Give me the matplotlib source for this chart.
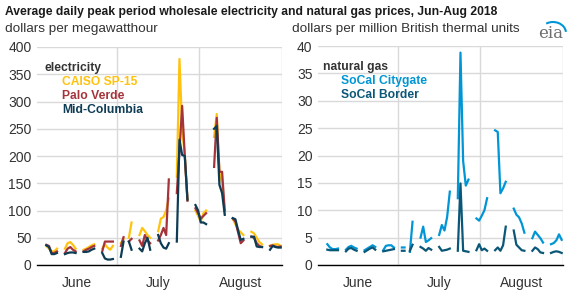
import numpy as np
import matplotlib.pyplot as plt
from matplotlib.patches import Arc

plt.rcParams['font.family'] = ['Liberation Sans', 'DejaVu Sans']

# dni od 1 czerwca do 31 sierpnia 2018, weekendy/swieta puste
n = np.nan
caiso = [n, n, n, 35, 30, 25, 25, 30, n, n,
         30, 40, 42, 37, 30, n, n, 28, 30, 33,
         36, 38, n, n, 30, 38, 32, 28, 35, n,
         n, 40, 48, n, 50, 78, n, n, 55, 68,
         62, 55, 50, n, n, 62, 85, 88, 100, 122,
         n, n, 162, 378, 250, 200, 120, n, n, 100,
         90, 80, 95, 100, n, n, 235, 277, 170, 150,
         95, n, n, 85, 75, 65, 60, 55, n, n,
         61, 58, 50, 42, 38, n, n, 35, 37, 38,
         38, 35]
palo_verde = [n, n, n, 37, 35, 22, 22, 25, n, n,
              22, 30, 33, 28, 25, n, n, 25, 28, 30,
              33, 35, n, n, 25, 43, 43, 43, 43, n,
              n, 35, 51, n, 43, 48, n, n, 45, 35,
              55, 45, 40, n, n, 45, 55, 68, 55, 157,
              n, n, 132, 210, 292, 200, 118, n, n, 104,
              95, 85, 90, 95, n, n, 180, 270, 171, 171,
              100, n, n, 85, 80, 60, 40, 45, n, n,
              52, 50, 40, 35, 33, n, n, 35, 36, 34,
              33, 34]
mid_columbia = [n, n, n, 36, 33, 20, 20, 22, n, n,
                20, 22, 23, 23, 22, n, n, 24, 24, 25,
                28, 30, n, n, 22, 12, 10, 10, 11, n,
                n, 15, 43, n, 43, 28, n, n, 30, 25,
                40, 50, 28, n, n, 55, 40, 32, 30, 40,
                n, n, 43, 230, 202, 200, 120, n, n, 110,
                100, 78, 78, 75, n, n, 250, 255, 147, 132,
                92, n, n, 86, 84, 64, 46, 48, n, n,
                52, 52, 34, 33, 33, n, n, 28, 35, 33,
                32, 32]

citygate = [n, n, n, 3.8, 3.2, 2.9, 2.9, 3.0, n, n,
            2.8, 3.3, 3.5, 3.2, 3.0, n, n, 2.7, 3.0, 3.3,
            3.6, 3.3, n, n, 2.7, 3.5, 3.6, 3.6, 3.2, n,
            n, 3.2, 3.2, n, 2.4, 7.9, n, n, 5.0, 7.0,
            4.2, 4.5, 4.9, n, n, 5.5, 7.3, 6.3, 8.8, 13.4,
            n, n, 12.2, 38.8, 19.0, 14.5, 15.6, n, n, 8.5,
            8.1, 9.0, 10.0, 12.2, n, n, 24.6, 24.3, 13.1, 14.0,
            15.2, n, n, 10.3, 9.2, 8.7, 7.6, 5.9, n, n,
            4.9, 6.1, 5.5, 4.9, 4.1, n, n, 3.8, 4.0, 4.5,
            5.6, 4.6]
border = [n, n, n, 2.8, 2.7, 2.7, 2.7, 2.7, n, n,
          2.5, 3.0, 3.1, 2.8, 2.6, n, n, 2.4, 2.7, 3.0,
          3.2, 2.8, n, n, 2.5, 2.6, 2.7, 2.8, 2.9, n,
          n, 2.6, 2.6, n, 2.6, 3.7, n, n, 3.3, 3.0,
          2.6, 3.1, 2.8, n, n, 3.3, 2.6, 2.7, 2.8, 3.0,
          n, n, 2.6, 14.9, 2.6, 2.5, 2.4, n, n, 2.7,
          3.8, 2.7, 3.0, 2.6, n, n, 2.7, 3.2, 2.6, 3.6,
          7.0, n, n, 6.3, 3.7, 3.2, 2.7, 2.6, n, n,
          2.6, 3.2, 2.9, 2.3, 2.2, n, n, 2.2, 2.4, 2.5,
          2.4, 2.2]

months = ['June', 'July', 'August']
month_days = [30, 31, 31]

kolor_grid = '#d9d9d9'
kolor_tekst = '#333333'

fig = plt.figure(figsize=(5.76, 2.9), dpi=100)

fig.text(5/576, 1 - 12/290, 'Average daily peak period wholesale electricity and natural gas prices, Jun-Aug 2018',
         fontsize=8.7, fontweight='bold', color='#1a1a1a', va='center', ha='left')
fig.text(5/576, 1 - 29/290, 'dollars per megawatthour', fontsize=9.7, color=kolor_tekst, va='center', ha='left')
fig.text(292/576, 1 - 29/290, 'dollars per million British thermal units', fontsize=9.7, color=kolor_tekst,
         va='center', ha='left')
fig.text(551/576, 1 - 33/290, 'eia', fontsize=12, color='#6d6e71', family='DejaVu Serif', va='center', ha='center')
fig.patches.append(Arc((553/576, 1 - 33/290), 26/576, 22/290, theta1=10, theta2=110,
                       color='#0096d6', lw=1.5, transform=fig.transFigure))

dni = np.arange(92)
granice = np.cumsum(month_days)[:-1] - 0.5
srodki = np.cumsum(month_days) - np.array(month_days) / 2 - 0.5


def rysuj_os(ax, ymax, krok):
    ax.set_xlim(-0.5, 91.5)
    ax.set_ylim(0, ymax)
    ax.set_yticks(np.arange(0, ymax + krok, krok))
    ax.set_xticks(srodki)
    ax.set_xticklabels(months)
    for g in granice:
        ax.axvline(g, color=kolor_grid, lw=1, zorder=0)
    ax.axvline(91.5, color=kolor_grid, lw=1, zorder=0)
    ax.grid(axis='y', color=kolor_grid, lw=1, zorder=0)
    ax.set_axisbelow(True)
    for s in ['top', 'right', 'left']:
        ax.spines[s].set_visible(False)
    ax.spines['bottom'].set_color('black')
    ax.spines['bottom'].set_linewidth(1)
    ax.tick_params(length=0, labelsize=10, colors=kolor_tekst, pad=4)
    ax.tick_params(axis='x', pad=8)


ax1 = fig.add_axes([37/576, 25/290, 245/576, 218/290])
rysuj_os(ax1, 400, 50)
ax1.plot(dni, caiso, color='#ffc20e', lw=1.6, zorder=3)
ax1.plot(dni, palo_verde, color='#a4343a', lw=1.6, zorder=4)
ax1.plot(dni, mid_columbia, color='#0e3c55', lw=1.6, zorder=5)
ax1.text(2.5, 361, 'electricity', fontsize=8.7, fontweight='bold', color=kolor_tekst, va='center')
ax1.text(8.9, 336, 'CAISO SP-15', fontsize=8.7, fontweight='bold', color='#ffc20e', va='center')
ax1.text(8.9, 310, 'Palo Verde', fontsize=8.7, fontweight='bold', color='#a4343a', va='center')
ax1.text(8.9, 285, 'Mid-Columbia', fontsize=8.7, fontweight='bold', color='#0e3c55', va='center')

ax2 = fig.add_axes([318/576, 25/290, 245/576, 219/290])
rysuj_os(ax2, 40, 5)
ax2.plot(dni, citygate, color='#0096d6', lw=1.6, zorder=3)
ax2.plot(dni, border, color='#0b5778', lw=1.6, zorder=4)
ax2.text(1.3, 36.1, 'natural gas', fontsize=8.7, fontweight='bold', color=kolor_tekst, va='center')
ax2.text(8.1, 33.6, 'SoCal Citygate', fontsize=8.7, fontweight='bold', color='#0096d6', va='center')
ax2.text(8.1, 31.1, 'SoCal Border', fontsize=8.7, fontweight='bold', color='#0b5778', va='center')

plt.savefig('out.png', dpi=100)
